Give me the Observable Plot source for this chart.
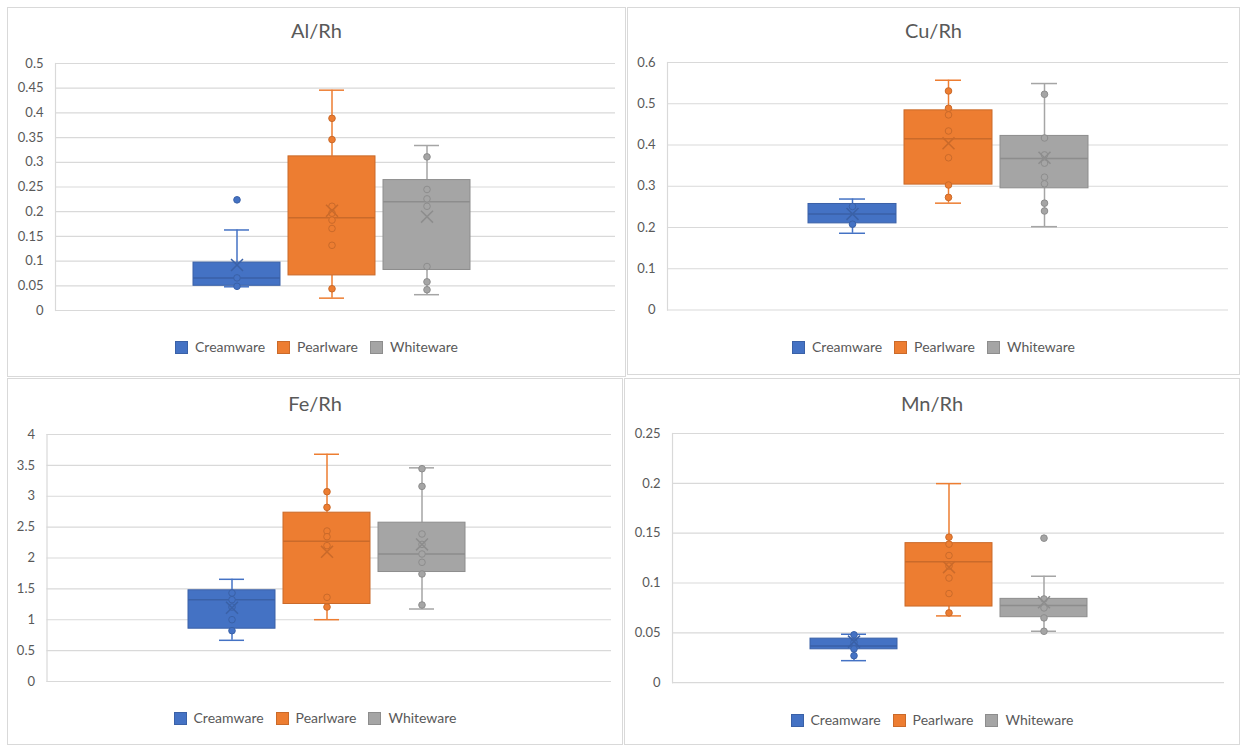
<!DOCTYPE html>
<html>
<head>
<meta charset="utf-8">
<script src="https://cdn.jsdelivr.net/npm/d3@7"></script>
<script src="https://cdn.jsdelivr.net/npm/@observablehq/plot@0.6"></script>
<style>
  body { margin: 0; background: #fff; font-family: Lato, "Open Sans", sans-serif; }
  #root { position: relative; width: 1244px; height: 747px; overflow: hidden; background: #fff; }
  .panel { position: absolute; background: #fff; box-shadow: inset 0 0 0 1px #d9d9d9; }
  .panel svg { position: absolute; left: 0; }
  .title { position: absolute; left: 0; right: 0; text-align: center; font-size: 20px; color: #595959; line-height: 1; }
  .legend { position: absolute; left: 0; right: 0; display: flex; justify-content: center; align-items: center; font-size: 14px; color: #595959; line-height: 1; }
  .legend .item { display: flex; align-items: center; margin: 0 6px; }
  .legend .sw { width: 13px; height: 13px; margin-right: 7px; box-sizing: border-box; }
</style>
</head>
<body>
<div id="root"></div>
<script>
// ---------- data ----------
const series = ["Creamware", "Pearlware", "Whiteware"];
const colors = ["#4472C4", "#ED7D31", "#A5A5A5"];
const titles = ["Al/Rh", "Cu/Rh", "Fe/Rh", "Mn/Rh"];

// Al/Rh  (order: Creamware, Pearlware, Whiteware)
const alLow  = [0.048, 0.025, 0.032];
const alQ1   = [0.050, 0.071, 0.082];
const alMed  = [0.066, 0.188, 0.220];
const alQ3   = [0.097, 0.312, 0.264];
const alHigh = [0.163, 0.446, 0.334];
const alMean = [0.092, 0.202, 0.190];
const alPts  = [[0.224, 0.066, 0.049],
                [0.389, 0.346, 0.211, 0.197, 0.183, 0.166, 0.132, 0.044],
                [0.311, 0.245, 0.226, 0.211, 0.089, 0.058, 0.042]];
const alTicks = [0, 0.05, 0.1, 0.15, 0.2, 0.25, 0.3, 0.35, 0.4, 0.45, 0.5];

// Cu/Rh
const cuLow  = [0.186, 0.259, 0.202];
const cuQ1   = [0.210, 0.304, 0.295];
const cuMed  = [0.233, 0.415, 0.367];
const cuQ3   = [0.257, 0.484, 0.422];
const cuHigh = [0.269, 0.557, 0.549];
const cuMean = [0.233, 0.404, 0.369];
const cuPts  = [[0.251, 0.208],
                [0.531, 0.489, 0.473, 0.434, 0.369, 0.303, 0.273],
                [0.523, 0.417, 0.376, 0.356, 0.322, 0.306, 0.259, 0.240]];
const cuTicks = [0, 0.1, 0.2, 0.3, 0.4, 0.5, 0.6];

// Fe/Rh
const feLow  = [0.667, 1.001, 1.174];
const feQ1   = [0.855, 1.255, 1.773];
const feMed  = [1.325, 2.270, 2.065];
const feQ3   = [1.477, 2.734, 2.572];
const feHigh = [1.655, 3.680, 3.460];
const feMean = [1.195, 2.100, 2.220];
const fePts  = [[1.433, 1.325, 1.206, 1.001, 0.823],
                [3.074, 2.820, 2.437, 2.345, 2.200, 1.363, 1.206],
                [3.446, 3.160, 2.389, 2.220, 2.065, 1.930, 1.741, 1.239]];
const feTicks = [0, 0.5, 1, 1.5, 2, 2.5, 3, 3.5, 4];

// Mn/Rh
const mnLow  = [0.0221, 0.0670, 0.0516];
const mnQ1   = [0.0335, 0.0764, 0.0657];
const mnMed  = [0.0369, 0.1213, 0.0774];
const mnQ3   = [0.0442, 0.1400, 0.0841];
const mnHigh = [0.0486, 0.1997, 0.1068];
const mnMean = [0.0412, 0.1159, 0.0807];
const mnPts  = [[0.048, 0.0405, 0.0339, 0.0271],
                [0.146, 0.139, 0.1276, 0.117, 0.105, 0.0894, 0.070],
                [0.145, 0.084, 0.075, 0.065, 0.0516]];
const mnTicks = [0, 0.05, 0.1, 0.15, 0.2, 0.25];

// ---------- build ----------
const stats = [
  [alLow, alQ1, alMed, alQ3, alHigh, alMean, alPts, alTicks],
  [cuLow, cuQ1, cuMed, cuQ3, cuHigh, cuMean, cuPts, cuTicks],
  [feLow, feQ1, feMed, feQ3, feHigh, feMean, fePts, feTicks],
  [mnLow, mnQ1, mnMed, mnQ3, mnHigh, mnMean, mnPts, mnTicks]
];

// page layout (pixels)
const layout = [
  {left: 7,   top: 7,   w: 619, h: 370, fx: [55, 615],   fy: [62.5, 309.5], bx: [193, 470],  titleY: 20, legendY: 340},
  {left: 627, top: 7,   w: 613, h: 368, fx: [667, 1228], fy: [62, 309.5],   bx: [808, 1088], titleY: 20, legendY: 340},
  {left: 7,   top: 378, w: 616, h: 367, fx: [46.5, 611], fy: [433.5, 680.5], bx: [187, 466], titleY: 393, legendY: 711},
  {left: 624, top: 378, w: 616, h: 367, fx: [672, 1224], fy: [433.3, 682.5], bx: [810, 1087], titleY: 393, legendY: 713}
];

const colorOf = Object.fromEntries(series.map((s, i) => [s, colors[i]]));
const darkOf = Object.fromEntries(series.map((s, i) => [s, d3.color(colors[i]).darker(0.45).formatHex()]));

const root = document.getElementById("root");

stats.forEach(([low, q1, med, q3, high, mean, pts, ticks], k) => {
  const L = layout[k];
  const rows = series.map((s, i) => ({series: s, low: low[i], q1: q1[i], med: med[i], q3: q3[i], high: high[i], mean: mean[i]}));
  const points = series.flatMap((s, i) => pts[i].map(v => ({series: s, value: v})));

  const panel = document.createElement("div");
  panel.className = "panel";
  Object.assign(panel.style, {left: L.left + "px", top: L.top + "px", width: L.w + "px", height: L.h + "px"});

  const title = document.createElement("div");
  title.className = "title";
  title.style.top = (L.titleY - L.top) + "px";
  title.textContent = titles[k];
  panel.appendChild(title);

  const mt = 12, mb = 14;
  const svgTop = L.fy[0] - mt - L.top;
  const H = (L.fy[1] - L.fy[0]) + mt + mb;

  const chart = Plot.plot({
    width: L.w,
    height: H,
    marginTop: mt,
    marginBottom: mb,
    marginLeft: L.fx[0] - L.left,
    marginRight: L.left + L.w - L.fx[1],
    x: {type: "band", domain: series, range: [L.bx[0] - L.left, L.bx[1] - L.left], paddingInner: 0.085, paddingOuter: 0, axis: null},
    y: {domain: [0, ticks[ticks.length - 1]], axis: null},
    color: {type: "identity"},
    style: {fontFamily: "Lato, 'Open Sans', sans-serif", fontSize: "13px", color: "#595959", background: "transparent", overflow: "visible"},
    marks: [
      Plot.ruleY(ticks, {stroke: "#d9d9d9", strokeWidth: 1.2}),
      Plot.frame({anchor: "left", stroke: "#d9d9d9", strokeWidth: 1.2}),
      Plot.axisY({ticks: ticks, tickSize: 0, tickPadding: 12, tickFormat: d => String(d), fill: "#595959", fontSize: 13}),
      Plot.ruleX(rows, {x: "series", y1: "low", y2: "q1", stroke: d => colorOf[d.series], strokeWidth: 1.5}),
      Plot.ruleX(rows, {x: "series", y1: "q3", y2: "high", stroke: d => colorOf[d.series], strokeWidth: 1.5}),
      Plot.tickY(rows, {x: "series", y: "low", stroke: d => colorOf[d.series], strokeWidth: 1.5, insetLeft: 31, insetRight: 31}),
      Plot.tickY(rows, {x: "series", y: "high", stroke: d => colorOf[d.series], strokeWidth: 1.5, insetLeft: 31, insetRight: 31}),
      Plot.barY(rows, {x: "series", y1: "q1", y2: "q3", fill: d => colorOf[d.series], stroke: d => darkOf[d.series], strokeWidth: 1}),
      Plot.tickY(rows, {x: "series", y: "med", stroke: d => darkOf[d.series], strokeWidth: 1.5}),
      Plot.dot(points, {x: "series", y: "value", r: 3.3, fill: d => colorOf[d.series], stroke: d => darkOf[d.series], strokeWidth: 1}),
      Plot.dot(rows, {x: "series", y: "mean", symbol: "times", r: 5.5, stroke: d => darkOf[d.series], strokeWidth: 1.5})
    ]
  });
  chart.style.top = svgTop + "px";
  panel.appendChild(chart);

  const legend = document.createElement("div");
  legend.className = "legend";
  legend.style.top = (L.legendY - L.top) + "px";
  series.forEach((s, i) => {
    const item = document.createElement("div");
    item.className = "item";
    const sw = document.createElement("span");
    sw.className = "sw";
    sw.style.background = colors[i];
    sw.style.border = "1px solid " + darkOf[s];
    const lab = document.createElement("span");
    lab.textContent = s;
    item.appendChild(sw);
    item.appendChild(lab);
    legend.appendChild(item);
  });
  panel.appendChild(legend);

  root.appendChild(panel);
});
</script>
</body>
</html>
